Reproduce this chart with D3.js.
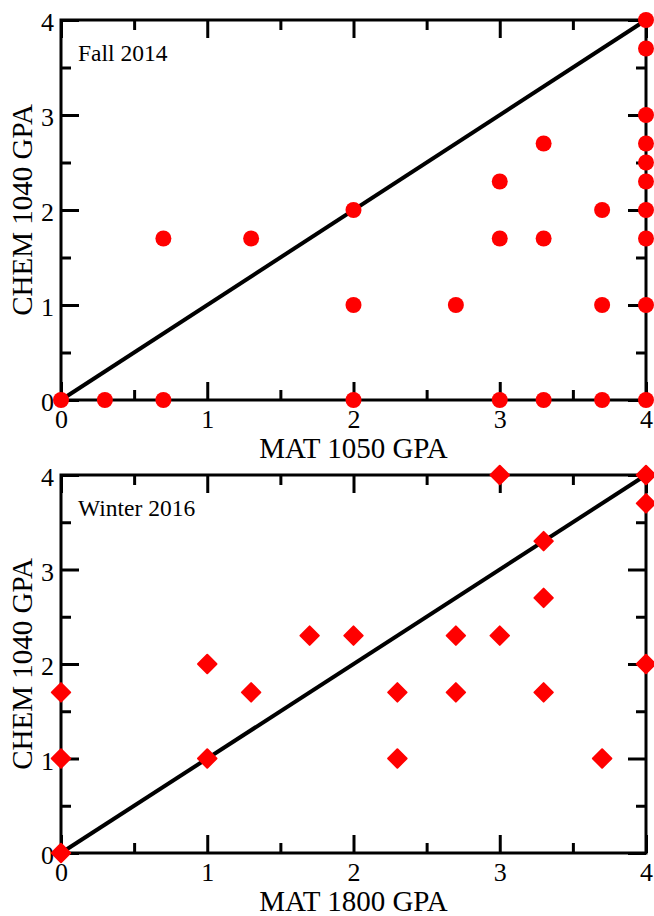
<!DOCTYPE html>
<html>
<head>
<meta charset="utf-8">
<script src="https://cdn.jsdelivr.net/npm/d3@7"></script>
<style>
    body { margin: 0; background: #fff; }
    svg { display: block; font-family: "Liberation Serif", "Times New Roman", serif; }
</style>
</head>
<body>
<div id="chart"></div>
<script>
// Fall 2014: MAT 1050 grade vs CHEM 1040 grade
const fallMat  = [0, 0.3, 0.7, 0.7, 1.3, 2, 2, 2, 2.7, 3, 3, 3, 3.3, 3.3, 3.3, 3.7, 3.7, 3.7,
                  4, 4, 4, 4, 4, 4, 4, 4, 4, 4];
const fallChem = [0, 0, 0, 1.7, 1.7, 2, 1, 0, 1, 2.3, 1.7, 0, 2.7, 1.7, 0, 2, 1, 0,
                  4, 3.7, 3, 2.7, 2.5, 2.3, 2, 1.7, 1, 0];

// Winter 2016: MAT 1800 grade vs CHEM 1040 grade
const winterMat  = [0, 0, 0, 1, 1, 1.3, 1.7, 2, 2.3, 2.3, 2.7, 2.7, 3, 3, 3.3, 3.3, 3.3, 3.7, 4, 4, 4];
const winterChem = [0, 1, 1.7, 2, 1, 1.7, 2.3, 2.3, 1.7, 1, 2.3, 1.7, 2.3, 4, 3.3, 2.7, 1.7, 1, 4, 3.7, 2];

const majorTicks = [0, 1, 2, 3, 4];
const minorTicks = [0.5, 1.5, 2.5, 3.5];
const gpaDomain = [0, 4];

const width = 654, height = 916;

const svg = d3.select("#chart").append("svg")
    .attr("width", width)
    .attr("height", height);

// both panels share the x range
const x = d3.scaleLinear().domain(gpaDomain).range([61, 646]);

const panels = [
    {term: "Fall 2014", xTitle: "MAT 1050 GPA", mat: fallMat, chem: fallChem, top: 20, bottom: 400, shape: "circle"},
    {term: "Winter 2016", xTitle: "MAT 1800 GPA", mat: winterMat, chem: winterChem, top: 475, bottom: 853, shape: "diamond"}
];

function tickStyle(sel) {
    sel.select(".domain").remove();
    sel.selectAll(".tick line").attr("stroke", "#000").attr("stroke-width", 3);
    sel.attr("font-family", null).attr("font-size", 26);
    sel.selectAll(".tick text").attr("fill", "#000");
}

panels.forEach(function (p) {
    const y = d3.scaleLinear().domain(gpaDomain).range([p.bottom, p.top]);
    const g = svg.append("g");

    // bottom + left: labelled major ticks and minor ticks, all pointing inward
    g.append("g").attr("transform", `translate(0,${y(0)})`)
        .call(d3.axisBottom(x).tickValues(majorTicks).tickSize(-18).tickPadding(10).tickFormat(d3.format("d")))
        .call(tickStyle);
    g.append("g").attr("transform", `translate(0,${y(0)})`)
        .call(d3.axisBottom(x).tickValues(minorTicks).tickSize(-10).tickFormat(""))
        .call(tickStyle);
    g.append("g").attr("transform", `translate(${x(0)},0)`)
        .call(d3.axisLeft(y).tickValues(majorTicks).tickSize(-18).tickPadding(7).tickFormat(d3.format("d")))
        .call(tickStyle)
        .selectAll(".tick text").attr("dy", "0.42em");
    g.append("g").attr("transform", `translate(${x(0)},0)`)
        .call(d3.axisLeft(y).tickValues(minorTicks).tickSize(-10).tickFormat(""))
        .call(tickStyle);

    // mirrored ticks on top + right
    g.append("g").attr("transform", `translate(0,${y(4)})`)
        .call(d3.axisTop(x).tickValues(majorTicks).tickSize(-18).tickFormat(""))
        .call(tickStyle);
    g.append("g").attr("transform", `translate(0,${y(4)})`)
        .call(d3.axisTop(x).tickValues(minorTicks).tickSize(-10).tickFormat(""))
        .call(tickStyle);
    g.append("g").attr("transform", `translate(${x(4)},0)`)
        .call(d3.axisRight(y).tickValues(majorTicks).tickSize(-18).tickFormat(""))
        .call(tickStyle);
    g.append("g").attr("transform", `translate(${x(4)},0)`)
        .call(d3.axisRight(y).tickValues(minorTicks).tickSize(-10).tickFormat(""))
        .call(tickStyle);

    // frame
    g.append("rect")
        .attr("x", x(0)).attr("y", y(4))
        .attr("width", x(4) - x(0)).attr("height", y(0) - y(4))
        .attr("fill", "none").attr("stroke", "#000").attr("stroke-width", 3);

    // y = x reference line
    g.append("path")
        .datum(gpaDomain.map(v => [v, v]))
        .attr("d", d3.line().x(d => x(d[0])).y(d => y(d[1])))
        .attr("stroke", "#000").attr("stroke-width", 4).attr("fill", "none");

    // term label
    g.append("text")
        .attr("x", 78).attr("y", p.top + 41)
        .attr("font-size", 23.5)
        .text(p.term);

    // axis titles
    g.append("text")
        .attr("x", (x(0) + x(4)) / 2).attr("y", y(0) + 58)
        .attr("text-anchor", "middle").attr("font-size", 29)
        .text(p.xTitle);
    g.append("text")
        .attr("transform", `translate(32,${(y(0) + y(4)) / 2}) rotate(-90)`)
        .attr("text-anchor", "middle").attr("font-size", 29)
        .text("CHEM 1040 GPA");

    // points
    const pts = p.mat.map((m, i) => ({mat: m, chem: p.chem[i]}));
    if (p.shape === "circle") {
        g.selectAll(".pt").data(pts).enter()
            .append("circle")
            .attr("class", "pt")
            .attr("cx", d => x(d.mat)).attr("cy", d => y(d.chem))
            .attr("r", 8)
            .attr("fill", "#ff0000");
    } else {
        g.selectAll(".pt").data(pts).enter()
            .append("path")
            .attr("class", "pt")
            .attr("d", d3.symbol(d3.symbolSquare, 170))
            .attr("transform", d => `translate(${x(d.mat)},${y(d.chem)}) rotate(45)`)
            .attr("fill", "#ff0000")
            .attr("stroke", "#ff0000").attr("stroke-width", 2).attr("stroke-linejoin", "round");
    }
});
</script>
</body>
</html>
